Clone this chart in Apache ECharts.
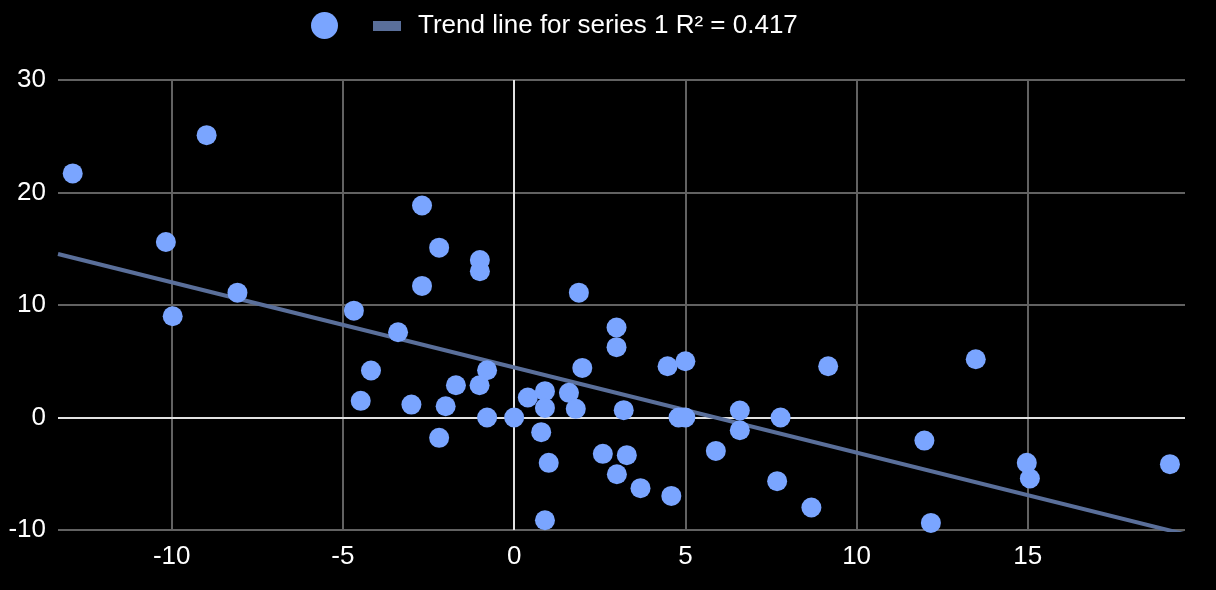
<!DOCTYPE html>
<html>
<head>
<meta charset="utf-8">
<style>
  html, body { margin: 0; padding: 0; background: #000; }
  #chart { width: 1216px; height: 590px; }
</style>
<script src="https://cdn.jsdelivr.net/npm/echarts@6/dist/echarts.min.js"></script>
</head>
<body>
<div id="chart"></div>
<script>
// ---- data ----
const seriesName = 'Series 1';
const trendName = 'Trend line for series 1 R\u00B2 = 0.417';

const xValues = [
  -12.89, -8.98, -10.17, -9.97, -8.08,
  -2.69, -2.19, -1.00, -1.00, -2.69,
  -4.68, -3.39, -4.18, -0.79, -1.70,
  -1.01, -4.48, -3.00, -2.00, -0.79,
  0.00, 0.40, 0.90, 0.90, 0.79,
  -2.19, 1.89, 2.99, 2.99, 1.99,
  4.48, 5.00, 1.60, 1.80, 3.20,
  4.80, 5.00, 6.59, 6.59, 1.01,
  2.59, 3.29, 3.00, 3.69, 4.59,
  0.90, 5.89, 9.17, 7.78, 7.68,
  8.68, 13.48, 11.98, 14.97, 15.06,
  19.15, 12.17
];
const yValues = [
  21.7, 25.1, 15.6, 9.0, 11.1,
  18.84, 15.1, 14.0, 13.0, 11.7,
  9.5, 7.58, 4.18, 4.2, 2.87,
  2.87, 1.48, 1.15, 1.0, 0.0,
  0.0, 1.78, 2.34, 0.85, -1.3,
  -1.81, 11.1, 8.0, 6.25, 4.41,
  4.56, 5.0, 2.19, 0.77, 0.65,
  0.0, 0.0, 0.62, -1.13, -4.03,
  -3.23, -3.35, -5.04, -6.28, -6.97,
  -9.13, -2.97, 4.56, 0.0, -5.66,
  -8.0, 5.18, -2.05, -4.03, -5.42,
  -4.15, -9.37
];

// trend line (as shown in the picture)
const trendSlope = -0.757;
const trendIntercept = 4.45;

// axes
const xRange = [-13.32, 19.59];
const yTicks = [-10, 0, 10, 20, 30];

// ---- build ----
const FONT = '"Liberation Sans", Arial, sans-serif';
const scatterData = xValues.map((x, i) => [x, yValues[i]]);
const trendData = xRange.map(x => [x, trendIntercept + trendSlope * x]);

const chart = echarts.init(document.getElementById('chart'), null, { renderer: 'canvas' });

chart.setOption({
  backgroundColor: '#000',
  animation: false,
  textStyle: { fontFamily: FONT },
  legend: [
    {
      data: [seriesName],
      left: 306, top: 7,
      icon: 'circle',
      itemWidth: 27, itemHeight: 27,
      formatter: () => '',
      selectedMode: false,
      textStyle: { fontSize: 1 }
    },
    {
      data: [trendName],
      left: 368, top: 6,
      icon: 'rect',
      itemWidth: 28, itemHeight: 10,
      selectedMode: false,
      textStyle: {
        color: '#ffffff', fontSize: 26, fontFamily: FONT,
        lineHeight: 30, padding: [0, 0, 0, 12]
      }
    }
  ],
  grid: { left: 58, right: 31, top: 80, bottom: 60, containLabel: false },
  xAxis: {
    type: 'value',
    min: xRange[0], max: xRange[1],
    splitNumber: 6,
    axisLine: { show: false, onZero: false },
    axisTick: { show: false },
    axisLabel: {
      color: '#ffffff', fontSize: 26, fontFamily: FONT, margin: 14,
      showMinLabel: false, showMaxLabel: false
    },
    splitLine: {
      show: true, showMinLine: false, showMaxLine: false,
      lineStyle: { color: '#626262', width: 2 }
    }
  },
  yAxis: {
    type: 'value',
    min: yTicks[0], max: yTicks[yTicks.length - 1],
    interval: yTicks[1] - yTicks[0],
    axisLine: { show: false, onZero: false },
    axisTick: { show: false },
    axisLabel: { color: '#ffffff', fontSize: 26, fontFamily: FONT, margin: 12 },
    splitLine: { show: true, lineStyle: { color: '#626262', width: 2 } }
  },
  series: [
    {
      name: trendName,
      type: 'line',
      data: trendData,
      showSymbol: false,
      symbol: 'none',
      clip: true,
      z: 2,
      silent: true,
      itemStyle: { color: '#5a6f9a' },
      lineStyle: { color: '#5a6f9a', width: 4 }
    },
    {
      name: seriesName,
      type: 'scatter',
      data: scatterData,
      symbol: 'circle',
      symbolSize: 20,
      z: 3,
      itemStyle: { color: '#7aa5ff', opacity: 1 },
      markLine: {
        silent: true,
        z: 1,
        symbol: ['none', 'none'],
        label: { show: false },
        lineStyle: { color: '#e2e2e2', width: 2, type: 'solid' },
        emphasis: { disabled: true },
        data: [{ xAxis: 0 }, { yAxis: 0 }]
      }
    }
  ]
});
</script>
</body>
</html>
